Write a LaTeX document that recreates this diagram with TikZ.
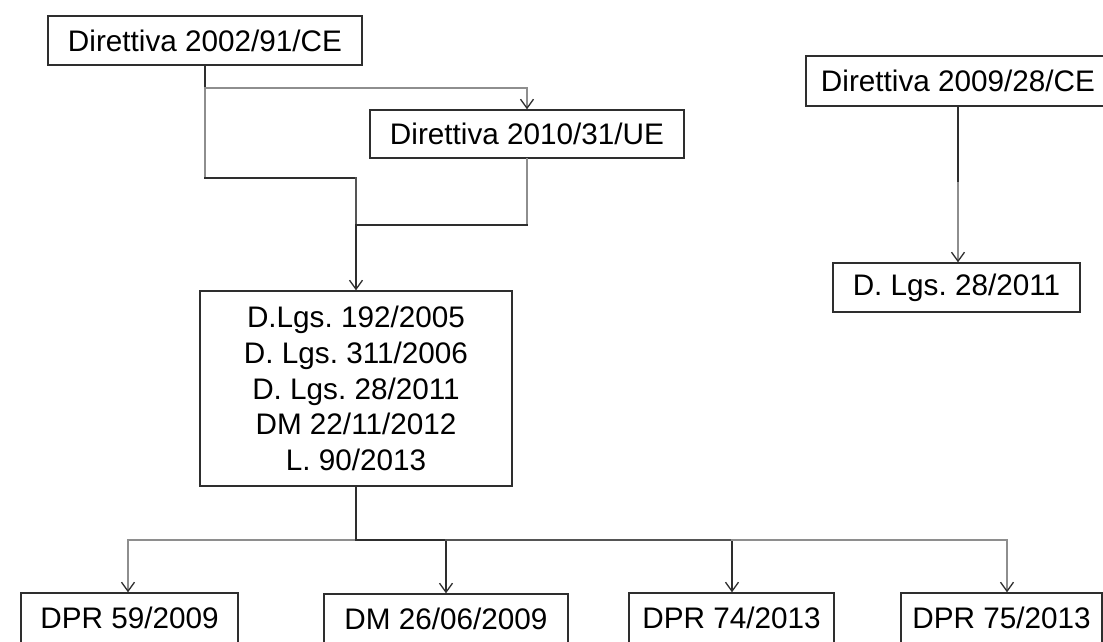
\documentclass[tikz,border=0pt]{standalone}
\usepackage{fontspec}
\setmainfont{Liberation Sans}
\usetikzlibrary{arrows.meta}
\definecolor{dk}{HTML}{2E2E2E}
\definecolor{md}{HTML}{555555}
\definecolor{lg}{HTML}{8E8E8E}
\frenchspacing
\begin{document}
\begin{tikzpicture}[x=1pt,y=-1pt,
  box/.style={draw=dk, line width=1.4pt, inner sep=0pt, align=center,
    font=\fontsize{29.7}{35.8}\selectfont},
  dkline/.style={draw=dk, line width=1.4pt, line cap=rect},
  mdline/.style={draw=md, line width=1.4pt, line cap=rect},
  ltline/.style={draw=lg, line width=1.4pt, line cap=rect},
  tip/.style={-{Straight Barb[length=9pt,width=13pt,line width=1.3pt,color=dk]}}]
\useasboundingbox[fill=white] (0,0) rectangle (1103,641);

% boxes
\node[box, minimum width=314pt, minimum height=49pt] (d1) at (205,40.5) {Direttiva 2002/91/CE};
\node[box, minimum width=314pt, minimum height=48pt] (d2) at (527,134) {Direttiva 2010/31/UE};
\node[box, minimum width=312pt, minimum height=195pt] (mid) at (356,388.5)
  {D.Lgs. 192/2005\\D. Lgs. 311/2006\\D. Lgs. 28/2011\\DM 22/11/2012\\L. 90/2013};
\node[box, minimum width=304pt, minimum height=50pt] (e1) at (958,81) {Direttiva 2009/28/CE};
\node[box, minimum width=247pt, minimum height=49pt] (e2) at (956.5,287.5) {D. Lgs. 28/2011};
\node[box, minimum width=217pt, minimum height=50pt] (p1) at (129.5,618) {DPR 59/2009};
\node[box, minimum width=244pt, minimum height=50pt] (p2) at (446,619) {DM 26/06/2009};
\node[box, minimum width=205pt, minimum height=50pt] (p3) at (731.5,618) {DPR 74/2013};
\node[box, minimum width=201pt, minimum height=50pt] (p4) at (1001.5,618) {DPR 75/2013};

% upper connectors
\coordinate (a1) at (205,88);
\coordinate (a2) at (205,178);
\coordinate (a3) at (356,178);
\coordinate (a4) at (356,225);
\coordinate (b1) at (527,88);
\coordinate (b2) at (527,225);
\draw[dkline] (d1.south -| a1) -- (a1);
\draw[ltline] (a1) -- (b1);
\draw[ltline, tip] (b1) -- (d2.north);
\draw[ltline] (a1) -- (a2);
\draw[dkline] (a2) -- (a3);
\draw[mdline] (a3) -- (a4);
\draw[ltline] (d2.south) -- (b2);
\draw[dkline] (b2) -- (a4);
\draw[dkline, tip] (a4) -- (mid.north);

% lower connectors
\coordinate (c0) at (356,540);
\coordinate (c1) at (128,540);
\coordinate (c2) at (446,540);
\coordinate (c3) at (732,540);
\coordinate (c4) at (1007,540);
\draw[dkline] (mid.south) -- (c0);
\draw[ltline] (c0) -- (c1);
\draw[ltline, tip] (c1) -- (c1 |- p1.north);
\draw[dkline] (c0) -- (c2);
\draw[dkline, tip] (c2) -- (c2 |- p2.north);
\draw[mdline] (c2) -- (c3);
\draw[dkline, tip] (c3) -- (c3 |- p3.north);
\draw[ltline] (c3) -- (c4);
\draw[ltline, tip] (c4) -- (c4 |- p4.north);

% right connector
\coordinate (r1) at (958,183);
\draw[dkline] (e1.south -| r1) -- (r1);
\draw[ltline, tip] (r1) -- (r1 |- e2.north);
\end{tikzpicture}
\end{document}
